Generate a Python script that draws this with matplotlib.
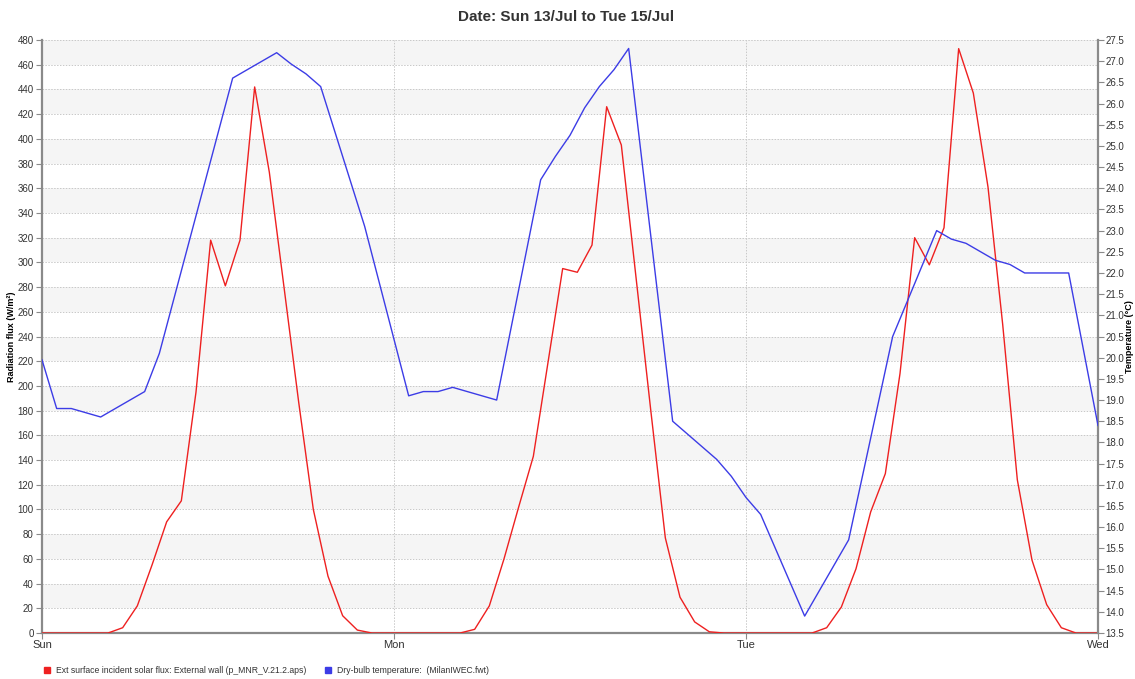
"""Solar flux on the external wall and dry-bulb temperature, Sun 13/Jul to Wed."""
import matplotlib
matplotlib.use("Agg")
import matplotlib.pyplot as plt
from matplotlib.lines import Line2D
import numpy as np

plt.rcParams['font.family'] = ['Liberation Sans', 'DejaVu Sans']

# hours since Sun 00:00
flux_hours = [0] + list(np.arange(0.5, 72, 1.0)) + [72]
flux = [0,
        0, 0, 0, 0, 0, 4.3, 22, 55, 90, 107, 195, 318,
        281, 318, 442, 373, 280, 187, 100, 46, 14, 2.4, 0, 0,
        0, 0, 0, 0, 0, 3, 22, 60, 102, 143, 219, 295,
        292, 314, 426, 395, 288, 181, 77, 29, 9, 1, 0, 0,
        0, 0, 0, 0, 0, 4.3, 21, 52, 98, 129, 210, 320,
        298, 328, 473, 437, 361, 250, 124, 59, 23, 4.3, 0, 0,
        0]

temp_hours = [0, 1, 2, 4, 7, 8, 13, 16, 17, 18, 19, 22, 25, 26, 27, 28, 31,
              34, 35, 36, 37, 38, 39, 40, 43, 46, 47, 48, 49, 52, 55, 58,
              61, 62, 63, 65, 66, 67, 70, 72]
temp = [19.95, 18.8, 18.8, 18.6, 19.2, 20.1, 26.6, 27.2, 26.93, 26.7, 26.4,
        23.1, 19.1, 19.2, 19.2, 19.3, 19.0, 24.2, 24.75, 25.25, 25.9, 26.4,
        26.8, 27.3, 18.5, 17.6, 17.2, 16.7, 16.3, 13.9, 15.7, 20.5, 23.0,
        22.8, 22.7, 22.3, 22.2, 22.0, 22.0, 18.4]

day_ticks = [0, 24, 48, 72]
day_labels = ["Sun", "Mon", "Tue", "Wed"]

flux_label = "Ext surface incident solar flux: External wall (p_MNR_V.21.2.aps)"
temp_label = "Dry-bulb temperature:  (MilanIWEC.fwt)"

red = '#ee2020'
blue = '#3c3ce6'
axis_grey = '#8a8a8a'
text_grey = '#333333'

fig = plt.figure(figsize=(11.35, 6.79), dpi=100)
ax = fig.add_axes([0.037, 0.0677, 0.9304, 0.8734])
ax2 = ax.twinx()

# alternating background bands
for lo in range(20, 480, 40):
    ax.axhspan(lo, lo + 20, color='#f5f5f5', zorder=0, lw=0)

ax.plot(flux_hours, flux, color=red, lw=1.0, zorder=3)
ax2.plot(temp_hours, temp, color=blue, lw=1.0, zorder=3)

ax.set_xlim(0, 72)
ax.set_ylim(0, 480)
ax2.set_ylim(13.5, 27.5)
ax.set_xticks(day_ticks)
ax.set_xticklabels(day_labels)
ax.set_yticks(np.arange(0, 481, 20))
ax2.set_yticks(np.arange(13.5, 27.6, 0.5))
ax2.set_yticklabels([f"{v:.1f}" for v in np.arange(13.5, 27.6, 0.5)])

ax.grid(True, axis='both', ls=(0, (1.5, 1.5)), color='#c8c8c8', lw=0.7)
ax.set_axisbelow(True)

for a in (ax, ax2):
    a.spines['top'].set_visible(False)
    for s in ('left', 'right', 'bottom'):
        a.spines[s].set_color(axis_grey)
        a.spines[s].set_linewidth(1.6)
ax.spines['right'].set_visible(False)
ax2.spines['left'].set_visible(False)
ax2.spines['bottom'].set_visible(False)

ax.tick_params(axis='y', labelsize=7, colors=axis_grey, labelcolor=text_grey,
               length=4, width=0.8, pad=2)
ax.tick_params(axis='x', labelsize=8, colors=axis_grey, labelcolor=text_grey,
               length=4, width=0.8, pad=1)
ax2.tick_params(axis='y', labelsize=7, colors=axis_grey, labelcolor=text_grey,
                length=4, width=0.8, pad=1.5)

ax.set_ylabel("Radiation flux (W/m²)", fontsize=6.5, fontweight='bold', labelpad=1)
ax2.set_ylabel("Temperature (°C)", fontsize=6.5, fontweight='bold', labelpad=0.5)

fig.text(0.499, 0.975, "Date: Sun 13/Jul to Tue 15/Jul", ha='center', va='center',
         fontsize=11, fontweight='bold', color=text_grey)

handles = [Line2D([], [], marker='s', ls='none', color=red, markersize=4.5),
           Line2D([], [], marker='s', ls='none', color=blue, markersize=4.5)]
fig.legend(handles, [flux_label, temp_label], loc='center left',
           bbox_to_anchor=(0.027, 0.013), ncol=2, frameon=False, fontsize=6.2,
           handletextpad=0.1, columnspacing=1.4, labelcolor=text_grey)

fig.savefig("out.png", dpi=100)
